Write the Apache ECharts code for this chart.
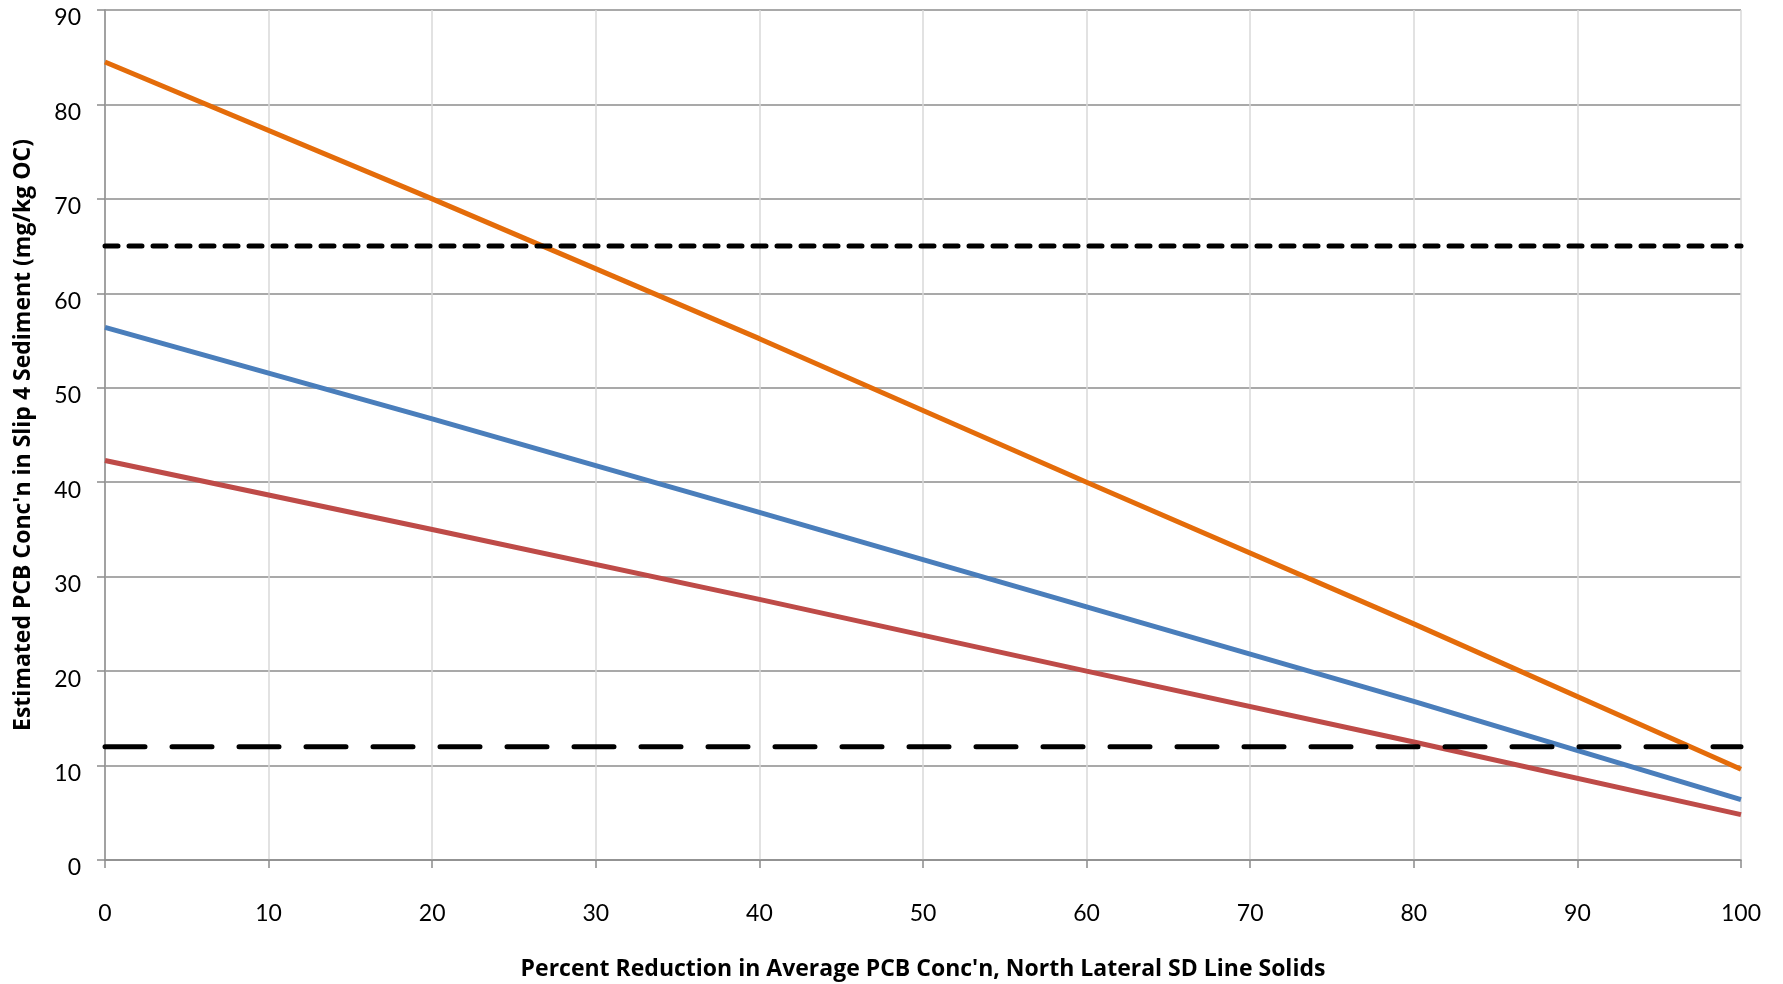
<!DOCTYPE html>
<html>
<head>
<meta charset="utf-8">
<script src="https://cdn.jsdelivr.net/npm/echarts@6/dist/echarts.min.js"></script>
<style>
    html, body { margin: 0; padding: 0; background: #fff; }
    #main { width: 1783px; height: 984px; }
</style>
</head>
<body>
<div id="main"></div>
<script>
    // percent reduction (x) and estimated concentration
    var reduction = [0, 20, 40, 60, 80, 100];
    var orangeLine = [84.5, 70.0, 55.2, 40.0, 25.0, 9.6];
    var blueLine = [56.4, 46.7, 36.8, 26.8, 16.8, 6.4];
    var redLine = [42.3, 35.0, 27.6, 20.0, 12.5, 4.8];

    // horizontal reference levels
    var upperLevel = 65;
    var lowerLevel = 12;
    var levelSpan = [0, 100];

    function pairs(xs, ys) {
        return xs.map(function (x, i) { return [x, ys[i]]; });
    }

    var tickFont = 'Lato, "Open Sans", sans-serif';
    var titleFont = '"Open Sans", Lato, sans-serif';
    var myChart = echarts.init(document.getElementById('main'));

    var option = {
        animation: false,
        backgroundColor: '#fff',
        grid: { left: 105, right: 42, top: 10, bottom: 124, outerBoundsMode: 'none' },
        xAxis: {
            type: 'value',
            min: 0, max: 100, interval: 10,
            name: "Percent Reduction in Average PCB Conc'n, North Lateral SD Line Solids",
            nameLocation: 'middle',
            nameGap: 98,
            nameTextStyle: { fontFamily: titleFont, fontWeight: 'bold', fontSize: 23, color: '#000' },
            axisLine: { lineStyle: { color: '#8c8c8c', width: 1.5 } },
            axisTick: { show: true, inside: false, length: 8, lineStyle: { color: '#8c8c8c', width: 1.5 } },
            axisLabel: { fontFamily: tickFont, fontSize: 23, color: '#000', margin: 42 },
            splitLine: { show: true, lineStyle: { color: '#d9d9d9', width: 1.5 } }
        },
        yAxis: {
            type: 'value',
            min: 0, max: 90, interval: 10,
            name: "Estimated PCB Conc'n in Slip 4 Sediment (mg/kg OC)",
            nameLocation: 'middle',
            nameGap: 70,
            nameTextStyle: { fontFamily: titleFont, fontWeight: 'bold', fontSize: 23, color: '#000' },
            axisLine: { show: true, lineStyle: { color: '#8c8c8c', width: 1.5 } },
            axisTick: { show: true, inside: false, length: 8, lineStyle: { color: '#8c8c8c', width: 1.5 } },
            axisLabel: { fontFamily: tickFont, fontSize: 23, color: '#000', margin: 24, verticalAlign: 'top', lineHeight: 16 },
            splitLine: { show: true, lineStyle: { color: '#8c8c8c', width: 1.5 } }
        },
        series: [
            {
                type: 'line', data: pairs(reduction, orangeLine), showSymbol: false,
                lineStyle: { color: '#e46c0a', width: 5 }
            },
            {
                type: 'line', data: pairs(reduction, blueLine), showSymbol: false,
                lineStyle: { color: '#4a7ebb', width: 5 }
            },
            {
                type: 'line', data: pairs(reduction, redLine), showSymbol: false,
                lineStyle: { color: '#be4b48', width: 5 }
            },
            {
                type: 'line', data: pairs(levelSpan, [upperLevel, upperLevel]), showSymbol: false,
                lineStyle: { color: '#000', width: 5, type: [13, 11], cap: 'round' }
            },
            {
                type: 'line', data: pairs(levelSpan, [lowerLevel, lowerLevel]), showSymbol: false,
                lineStyle: { color: '#000', width: 5, type: [40, 27], cap: 'round' }
            }
        ]
    };

    myChart.setOption(option);
</script>
</body>
</html>
